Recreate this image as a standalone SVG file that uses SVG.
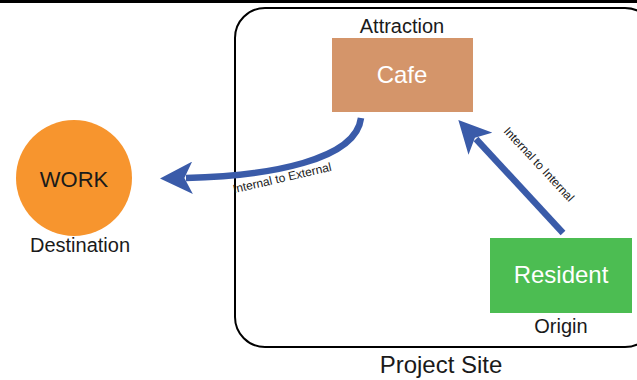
<svg xmlns="http://www.w3.org/2000/svg" width="637" height="380" viewBox="0 0 637 380">
<style>
text{font-family:"Liberation Sans",Arial,sans-serif;}
.lbl{font-size:20px;fill:#1a1a1a;text-anchor:middle;}
.node{font-size:24px;text-anchor:middle;}
.edge{font-size:12px;fill:#1a1a1a;text-anchor:middle;}
.conn{fill:none;stroke:#3A5BA9;stroke-width:6.5;}
</style>
<defs>
<marker id="ah" viewBox="0 0 10 10" refX="2" refY="5" markerWidth="5" markerHeight="5" orient="auto" markerUnits="strokeWidth">
<path d="M0,0 L10,5 L0,10 L2.5,5 Z" fill="#3A5BA9"/>
</marker>
</defs>
<rect width="637" height="380" fill="#fff"/>
<line x1="0" y1="1.5" x2="637" y2="1.5" stroke="#000" stroke-width="3"/>
<g id="site">
<rect x="235" y="8" width="420" height="339" rx="30" fill="none" stroke="#000" stroke-width="2"/>
<text class="lbl" x="441" y="373" style="font-size:24px">Project Site</text>
</g>
<g id="cafe">
<rect x="332" y="38" width="141" height="74" fill="#D4956A"/>
<text class="node" x="402" y="83" fill="#fff">Cafe</text>
<text class="lbl" x="402" y="33">Attraction</text>
</g>
<g id="work">
<ellipse cx="74" cy="178" rx="58" ry="58" fill="#F7952E"/>
<text class="node" x="74" y="187" fill="#1a1a1a" style="font-size:22px">WORK</text>
<text class="lbl" x="80" y="252">Destination</text>
</g>
<g id="resident">
<rect x="490" y="238" width="142" height="75" fill="#4CBD52"/>
<text class="node" x="561" y="283" fill="#fff">Resident</text>
<text class="lbl" x="561" y="333">Origin</text>
</g>
<g id="connectors">
<path class="conn" d="M361,118 C356,160 270,176 186,178" marker-end="url(#ah)"/>
<path class="conn" d="M563,233 L476,139" marker-end="url(#ah)"/>
<text class="edge" transform="translate(283,182) rotate(-13)">Internal to External</text>
<text class="edge" transform="translate(536,167) rotate(47)">Internal to Internal</text>
</g>
</svg>
